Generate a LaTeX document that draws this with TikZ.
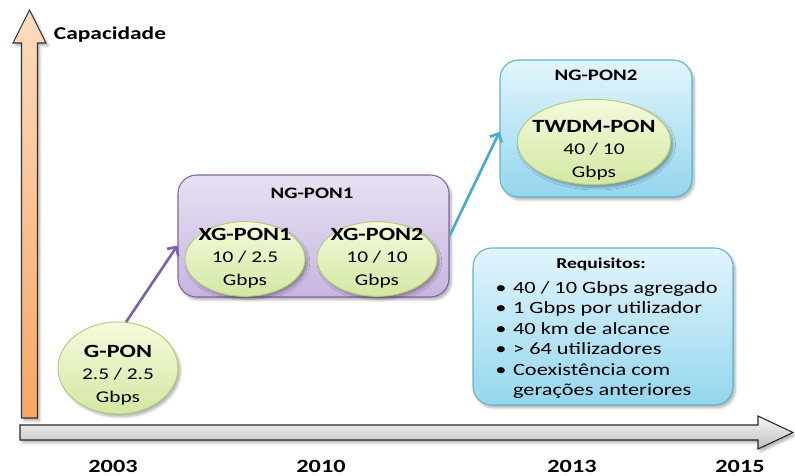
\documentclass[tikz,border=0pt]{standalone}
\usepackage{fontspec}
\setmainfont{Carlito}[FakeStretch=1.3]
\usetikzlibrary{arrows.meta,shadows.blur,shapes.geometric}

\definecolor{ellTop}{HTML}{F5FADD}
\definecolor{ellBot}{HTML}{D3E8A2}
\definecolor{ellBorder}{HTML}{B3CB78}
\definecolor{purpleTop}{HTML}{E9E1F3}
\definecolor{purpleBot}{HTML}{C7B5E0}
\definecolor{purpleBorder}{HTML}{8064A2}
\definecolor{blueTop}{HTML}{E2F5FC}
\definecolor{blueBot}{HTML}{95D6EE}
\definecolor{blueBorder}{HTML}{5DB5D0}
\definecolor{orangeTop}{HTML}{FCDCC0}
\definecolor{orangeBot}{HTML}{F7A763}
\definecolor{grayTop}{HTML}{F7F7F7}
\definecolor{grayBot}{HTML}{BEBEBE}
\definecolor{linkPurple}{HTML}{7E62A8}
\definecolor{linkTeal}{HTML}{4BACC6}

\begin{document}
\begin{tikzpicture}[x=0.75pt,y=-0.75pt,
  softshadow/.style={blur shadow={shadow blur steps=5, shadow xshift=1.8pt,
      shadow yshift=-2.2pt, shadow opacity=30, shadow blur radius=1.8pt}},
  techellipse/.style={ellipse, draw=ellBorder, line width=0.7pt,
      top color=ellTop, bottom color=ellBot, inner sep=0pt, softshadow},
  groupbox/.style={rectangle, rounded corners=14pt, line width=0.8pt,
      inner sep=0pt, softshadow},
  purplebox/.style={groupbox, draw=purpleBorder, top color=purpleTop, bottom color=purpleBot},
  bluebox/.style={groupbox, draw=blueBorder, top color=blueTop, bottom color=blueBot},
  techtext/.style={align=center, inner sep=0pt, font=\fontsize{12.3}{17}\selectfont},
  boxtitle/.style={inner sep=0pt, font=\bfseries\fontsize{12}{14}\selectfont},
  yearlabel/.style={inner sep=0pt, font=\bfseries\fontsize{14}{16}\selectfont},
  linkarrow/.style={line width=2pt, -{Straight Barb[length=5pt,width=10pt]}}
]
\useasboundingbox (0,0) rectangle (795,475);

% capacity axis (vertical block arrow)
\shadedraw[top color=orangeTop, bottom color=orangeBot, draw=black!80,
    line width=0.8pt, line join=miter, softshadow]
  (21.5,418) -- (21.5,43) -- (13,43) -- (29.5,10) -- (46,43) -- (37.5,43)
  -- (37.5,418) -- cycle;
\node[inner sep=0pt, font=\bfseries\fontsize{13.5}{16}\selectfont] (cap) at (110,35) {Capacidade};

% time axis (horizontal block arrow)
\shadedraw[top color=grayTop, bottom color=grayBot, draw=black!85,
    line width=0.8pt, line join=miter, softshadow]
  (20,425) -- (758,425) -- (758,416) -- (793,432.5) -- (758,449) -- (758,440)
  -- (20,440) -- cycle;

\node[yearlabel] (y2003) at (113,466) {2003};
\node[yearlabel] (y2010) at (321,466) {2010};
\node[yearlabel] (y2013) at (572,466) {2013};
\node[yearlabel] (y2015) at (740,466) {2015};

% generation groups
\node[purplebox, minimum width=203.25pt, minimum height=91.5pt] (ngpon1) at (313.5,236) {};
\node[boxtitle] (ngpon1-title) at (312,193) {NG-PON1};

\node[bluebox, minimum width=144pt, minimum height=102.75pt] (ngpon2) at (596,128.5) {};
\node[boxtitle] (ngpon2-title) at (596,75) {NG-PON2};

\node[bluebox, minimum width=195pt, minimum height=117.75pt] (req) at (603,326.5) {};
\node[inner sep=0pt, font=\bfseries\fontsize{11.3}{13}\selectfont] (req-title) at (601,264) {Requisitos:};
\node[inner sep=0pt, anchor=west, font=\fontsize{12.9}{15.3}\selectfont] (req-list) at (495,340.5)
  {\begin{tabular}{@{}l@{\hspace{5pt}}l@{}}
   \textbullet & 40 / 10 Gbps agregado\\
   \textbullet & 1 Gbps por utilizador\\
   \textbullet & 40 km de alcance\\
   \textbullet & > 64 utilizadores\\
   \textbullet & Coexistência com\\
               & gerações anteriores
   \end{tabular}};

% technologies
\node[techellipse, minimum width=90pt, minimum height=69pt] (gpon) at (118,368) {};
\node[techtext] (gpon-text) at (118,375)
  {{\bfseries\fontsize{14}{17}\selectfont G-PON}\\2.5 / 2.5\\Gbps};

\node[techellipse, minimum width=90pt, minimum height=56pt] (xgpon1) at (245,259) {};
\node[techtext] (xgpon1-text) at (245,258)
  {{\bfseries\fontsize{14}{17}\selectfont XG-PON1}\\10 / 2.5\\Gbps};

\node[techellipse, minimum width=90pt, minimum height=56pt] (xgpon2) at (377,259) {};
\node[techtext] (xgpon2-text) at (377,258)
  {{\bfseries\fontsize{14}{17}\selectfont XG-PON2}\\10 / 10\\Gbps};

\node[techellipse, minimum width=115pt, minimum height=64pt] (twdm) at (594,142) {};
\node[techtext] (twdm-text) at (594,150)
  {{\bfseries\fontsize{14}{17}\selectfont TWDM-PON}\\40 / 10\\Gbps};

% evolution links
\draw[linkarrow, draw=linkPurple] (gpon.80) -- (ngpon1.184);
\draw[linkarrow, draw=linkTeal] (ngpon1.east) -- (ngpon2.182);
\end{tikzpicture}
\end{document}
